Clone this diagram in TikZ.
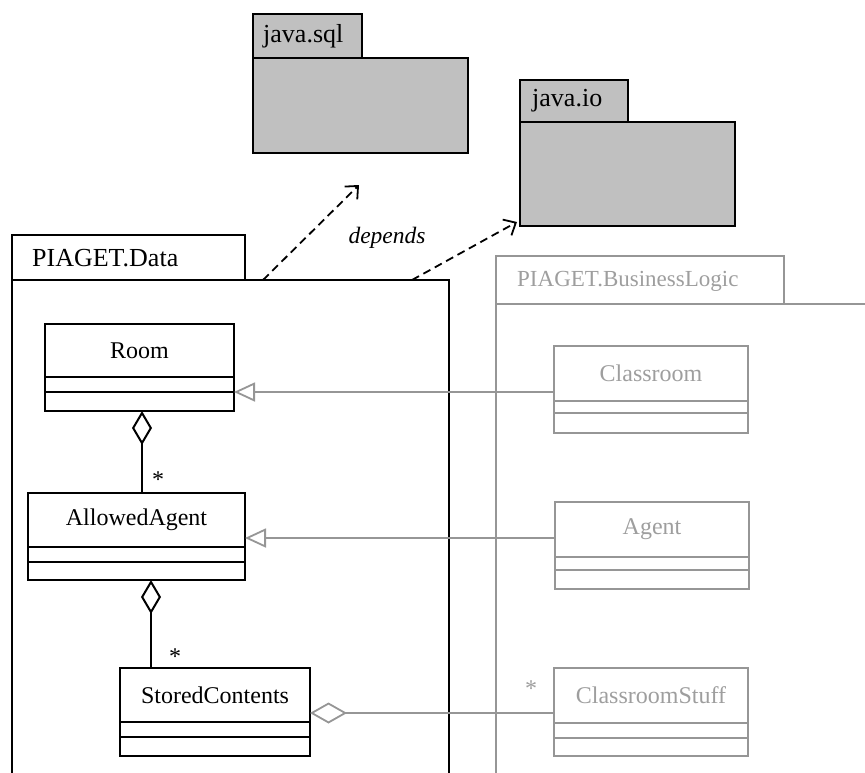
\documentclass[tikz,border=0pt]{standalone}
\usepackage{fontspec}
\setmainfont{Liberation Serif}
\usetikzlibrary{arrows.meta}

\definecolor{pkgfill}{RGB}{192,192,192}
\definecolor{dimline}{RGB}{150,150,150}
\definecolor{dimtext}{RGB}{158,158,158}

\tikzset{
  blk/.style={line width=2pt, draw=black},
  dim/.style={line width=1.8pt, draw=dimline},
  namebox/.style={draw, inner sep=0pt, outer sep=0pt, minimum width=#1,
    font=\fontsize{24}{28}\selectfont},
  compbox/.style={draw, inner sep=0pt, outer sep=0pt, minimum width=#1, anchor=north},
  tabtext/.style={anchor=west, inner sep=0pt, font=\fontsize{#1}{30}\selectfont},
  mult/.style={inner sep=0pt, font=\fontsize{24}{28}\selectfont},
  aggblk/.style={blk, -{Diamond[open, length=34pt, width=20pt, line width=2pt]}},
  aggdim/.style={dim, -{Diamond[open, length=37pt, width=21pt, line width=1.8pt, fill=white]}},
  gen/.style={dim, -{Triangle[open, length=21pt, width=19pt, line width=1.8pt, fill=white]}},
  dep/.style={line width=1.8pt, dash pattern=on 8pt off 5pt,
    -{Straight Barb[length=10pt, width=18pt, line width=1.8pt]}},
}

\begin{document}
\begin{tikzpicture}[x=1pt, y=-1pt]
\useasboundingbox (0,0) rectangle (865,772);

% ---- external packages ----
\draw[blk, fill=pkgfill] (253,58) rectangle (468,153);
\draw[blk, fill=pkgfill] (253,14) rectangle (362,58);
\node[tabtext=26] (sqlname) at (263,36) {java.sql};

\draw[blk, fill=pkgfill] (520,122) rectangle (735,226);
\draw[blk, fill=pkgfill] (520,80) rectangle (628,122);
\node[tabtext=26] (ioname) at (532,101) {java.io};

% ---- PIAGET.Data package ----
\draw[blk] (12,235) rectangle (245,280);
\draw[blk] (12,775) -- (12,280) -- (449,280) -- (449,775);
\node[tabtext=26] (dataname) at (32,258) {PIAGET.Data};

% ---- PIAGET.BusinessLogic package ----
\draw[dim] (496,256) rectangle (784,304);
\draw[dim] (496,775) -- (496,304) -- (865,304);
\node[tabtext=23, text=dimtext] (blname) at (517,281) {PIAGET.BusinessLogic};

% ---- classes in PIAGET.Data ----
\begin{scope}[line width=2pt]
\node[namebox=189pt, minimum height=53pt] (room) at (139.5,350.5) {Room};
\node[compbox=189pt, minimum height=15pt] (room-a) at (room.south) {};
\node[compbox=189pt, minimum height=19pt] (room-o) at (room-a.south) {};

\node[namebox=217pt, minimum height=54pt] (allowed) at (136.5,520) {AllowedAgent};
\node[compbox=217pt, minimum height=15pt] (allowed-a) at (allowed.south) {};
\node[compbox=217pt, minimum height=18pt] (allowed-o) at (allowed-a.south) {};

\node[namebox=190pt, minimum height=54pt] (stored) at (215,695) {StoredContents};
\node[compbox=190pt, minimum height=15pt] (stored-a) at (stored.south) {};
\node[compbox=190pt, minimum height=19pt] (stored-o) at (stored-a.south) {};
\end{scope}

% ---- classes in PIAGET.BusinessLogic ----
\begin{scope}[line width=1.8pt, text=dimtext]
\node[namebox=194pt, minimum height=55pt, draw=dimline] (classroom) at (651,373.5) {Classroom};
\node[compbox=194pt, minimum height=12pt, draw=dimline] (classroom-a) at (classroom.south) {};
\node[compbox=194pt, minimum height=20pt, draw=dimline] (classroom-o) at (classroom-a.south) {};

\node[namebox=194pt, minimum height=55pt, draw=dimline] (agent) at (652,529.5) {Agent};
\node[compbox=194pt, minimum height=13pt, draw=dimline] (agent-a) at (agent.south) {};
\node[compbox=194pt, minimum height=19pt, draw=dimline] (agent-o) at (agent-a.south) {};

\node[namebox=194pt, minimum height=55pt, draw=dimline] (stuff) at (651,695.5) {ClassroomStuff};
\node[compbox=194pt, minimum height=15pt, draw=dimline] (stuff-a) at (stuff.south) {};
\node[compbox=194pt, minimum height=18pt, draw=dimline] (stuff-o) at (stuff-a.south) {};
\end{scope}

% ---- aggregations inside PIAGET.Data ----
\coordinate (roomhub) at ([xshift=2.5pt]room-o.south);
\draw[aggblk] (allowed.north -| roomhub) -- (roomhub);
\node[mult] (m1) at (158,480) {*};

\coordinate (allowedhub) at ([xshift=14.5pt]allowed-o.south);
\draw[aggblk] (stored.north -| allowedhub) -- (allowedhub);
\node[mult] (m2) at (175,657) {*};

% ---- generalizations and aggregation across packages ----
\draw[gen] (classroom.west |- room-o.north east) -- (room-o.north east);

\coordinate (allowedtip) at ([yshift=-18pt]allowed.east);
\draw[gen] (agent.west |- allowedtip) -- (allowedtip);

\coordinate (storedtip) at ([yshift=-18pt]stored.east);
\draw[aggdim] (stuff.west |- storedtip) -- (storedtip);
\node[mult, text=dimtext] (m3) at (531,689) {*};

% ---- dependencies ----
\coordinate (depA) at (263,280);
\coordinate (depB) at (412,280);
\coordinate (sqlend) at (359,185);
\coordinate (ioend) at (517,222);
\draw[dep] (depA) -- (sqlend);
\draw[dep] (depB) -- (ioend);
\node[inner sep=0pt, font=\itshape\fontsize{23.5}{28}\selectfont] (deplabel) at (387,238) {depends};

\end{tikzpicture}
\end{document}
